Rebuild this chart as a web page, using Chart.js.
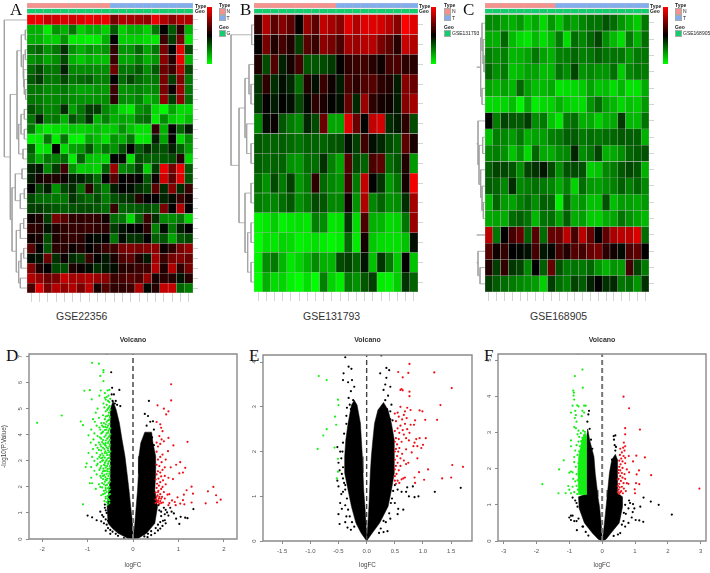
<!DOCTYPE html>
<html lang="en">
<head>
<meta charset="UTF-8">
<title>GEO heatmaps and volcano plots</title>
<script src="https://cdn.jsdelivr.net/npm/chart.js"></script>
<style>
    html, body { margin: 0; padding: 0; background: #fff; }
    body { position: relative; width: 710px; height: 573px; overflow: hidden; font-family: "Liberation Sans", Arial, sans-serif; }
    canvas { position: absolute; }
    .txt { position: absolute; white-space: nowrap; line-height: 1; color: #222; }
    .swatch { position: absolute; border: 0.5px solid #aaa; box-sizing: border-box; }
</style>
</head>
<body>
<script>
// heatmap values, one list per row
const rowsA = [
[12,12,11.3,11.5,11.7,11.5,11.8,12,11.8,12,10,11,10.8,10.7,10.5,12,11,10.3,11,11],
[5,5,4,5.5,5,6,4.5,5,5,4.5,6.5,4.5,5,5,4.5,6,8,6.5,8.7,5],
[5,5,4.5,4.5,5.5,4,4,3.9,4,5,8,4.5,4.5,4.5,4.2,4.1,9,7,10,4.2],
[6,6.3,5.5,6,7.2,5.5,5,5.5,5.2,5.5,8.8,5.5,5.5,6.3,5.2,6,10,8,11.8,6.8],
[5.5,5.8,5.2,5.6,6.8,5,4.6,5,4.8,4.8,9,5.2,5.2,5.8,5,5.5,10.3,8.6,12,5],
[6.2,6.8,6,6,7.5,5.7,5.6,5.7,5.6,5.6,9.8,6,6,6.5,5.6,6.5,9.8,9,11,6.8],
[6.5,7,6,6,6.8,6,6.2,6.4,5.8,5.8,8,6.2,6.8,6.2,5.8,6,10,7,10.2,6],
[6,6,5.6,5.7,6,5.5,5.2,5.3,5.5,5.4,9,5.5,5.6,5.8,5.5,5.7,10,8.2,10.6,6],
[6,5.9,5.6,5.7,5.9,5.6,5.5,5.5,5.5,5.6,8.7,5.6,5.5,5.8,4.9,5.3,10.4,7,10.4,6.1],
[6.6,6.2,5.7,5.8,7.3,5.3,6,7,7,5.7,5.2,4.3,4,5.5,5.8,4.3,3.8,5.2,4.3,4.3],
[6,7.5,5.8,6,5,6.6,6,7.2,5,5.8,5,5.2,5,6,6.2,4,5.6,4.6,4.2,4.8],
[6,4.4,4,4.2,4.3,4.6,4.4,4.6,4.8,4.5,4.6,5.5,4.7,4.2,4.2,8.8,5,8,6.3,7.5],
[3.9,4,6,4,6,3.9,3.8,5.2,4.8,4.2,5.5,5,6,4,4.1,7.5,5.2,8,4.4,5.6],
[6.5,4,4.2,8,4.3,5.2,5.4,6.6,5.2,6,5.5,6.6,8,6.4,7.2,6.8,6.6,7.5,6.4,5.3],
[6,5,6,5.8,6.2,4,6.4,4.7,4.6,4.4,8,7.8,4.2,6.7,6.3,6.4,6.5,6.7,8.6,4.4],
[7.4,7.6,5.7,7,9,5.5,4.5,4.6,4.4,6.4,10.6,5.7,6,7,4.5,7,12,10,12,6.5],
[7.5,8.3,8.5,8.5,8.2,7.5,7.5,7,6.2,8,9.4,8,8.2,8,6.5,8.2,11.5,9.6,11.8,6.6],
[8,6.8,7.5,5.5,6.8,7.3,6,8.7,6.5,5.8,7.5,8,7.8,7.2,6.8,9.5,7.3,10.2,7.3,9],
[6.8,6.2,6.1,6,6,7.1,6.5,6.2,6.7,5.9,6.6,7,7.2,8.6,8,8,7.4,7.8,9,8.3],
[6.9,7,6.7,6.5,6.4,6.6,6.7,6.7,6.5,6.2,8.9,6.3,6.4,6.5,6.7,6.4,10,8,11,8],
[8.2,8.5,7,10,9.5,8.8,8.8,8.9,8.8,8.3,6.2,6,4.3,6.3,9,7.2,5.7,5.6,6,4.4],
[8.8,8.6,7.7,8.5,8.8,8.9,8.9,9,8.8,8.7,7,7.7,8,8,8.7,5.8,7.8,6,7.5,8],
[8.2,8.4,6.7,8.5,8.8,8.9,8.7,8,7.8,8,6,7.8,7.1,7.2,8,6.4,6.6,5.2,6.5,6.8],
[9.5,8,6.6,8.7,8.7,8.2,8.6,8,8.5,9,9,10,10.2,10,10.2,10.4,8.2,8.8,10,10.6],
[7.8,7.7,9.8,7.2,8.2,7.3,7,9,8,7.6,8.4,9.3,9.6,8.5,7.6,10.7,9,10,10.2,9.8],
[10.2,8.5,8,6.8,6.7,8.5,8.2,7.8,7.2,7.6,7.8,8.6,8.7,9,9,11,8.5,11,8.8,10],
[11,10.5,9.8,10,11.3,10.8,10.8,11,10.6,10.3,9,9.2,9.5,9.2,10.5,8.4,8.7,8.6,7.7,8.6],
[9.2,11.8,10,11,10.5,11,10,11.2,8.4,9.4,8.8,8.8,9,11,7.9,8.6,11.3,11.3,6.3,5.9]
];
const rowsB = [
[8,10.2,8.8,9.5,8.8,7.3,9.8,8.8,10.5,10,9.5,11,10.2,11,11,10.8,10.3,9.5,11.5,11],
[7.3,9.2,7.8,8.4,7.8,6.2,8.7,8.2,9.6,9.2,8.5,10,9.8,10.3,10.3,9.3,8.8,7.9,10.6,10.2],
[7.8,6,8.6,6.7,7.6,8.4,5.8,5.8,6,6.3,7.3,8,8.2,8.3,7.9,7.5,8.4,8.5,8,7.9],
[6.4,8,6.5,7,6.6,5.4,7.8,7,8.2,7.5,6.8,8.4,8,8.6,8.7,8,7.8,6.8,9.5,9],
[6.3,7.3,6.8,7.2,7,6,7.1,8,7.7,7.2,7,8.9,6.6,9.8,8,7.6,7.5,6.8,9.5,10],
[5,7,7.4,5.8,5.2,4.9,6.6,6,9,4.5,4.5,11,9,7.2,10.5,10.8,6.5,6.8,8,6],
[5.8,5.6,5.6,5.7,5.5,5.3,5.6,5.6,5.6,5.8,5.9,7,6.2,8.3,7,6.6,6,5.7,8.8,7.7],
[5.7,5.5,5.6,5.6,4.8,4.7,5.4,5.4,6.4,5.1,4.5,8.6,6,5.6,8.5,8.8,5.4,5.8,7.8,4.7],
[5.4,4.8,6,5.2,6.2,4.7,5.2,8,5.5,5,4.8,8.3,5.2,10.5,7.2,6.4,4.7,5.3,7.6,11.3],
[5.2,5,5,5.4,5.8,4.8,5.2,6,5.8,5,5,7.5,4.8,10.2,5,5.6,4.8,4.9,6.5,10],
[3.2,3.4,3.8,3.2,3.4,3.5,3.4,5.1,4.9,3.4,3.5,6.3,3.6,8.5,4.3,4.2,3.6,3.7,5.3,9.8],
[3,3.5,3.4,3.7,3.6,3.2,3.3,3.5,3.3,3.1,3.3,5.5,3.3,7.6,3.9,3.6,3.5,3.5,4,7],
[3.2,4.9,5.2,4.2,3.4,3.7,4.2,4.9,4.3,4.2,6,6.2,5.6,6.9,4,6.4,5.2,3.9,7.3,4],
[3,4.3,3.6,3.7,3.2,3,3.5,3,5.1,3.7,3.3,5.2,4.8,5.8,6.2,3.3,3.2,3.8,6.4,5.6]
];
const rowsC = [
[6,5.8,5.2,4.8,5.5,4.2,5,3.6,5.5,4.2,5.8,5.2,6,6.6,6.6,7.5,6.8,5.6,4.8,4,6.5],
[5,4.8,7,4.5,3.6,3.2,4.5,3.4,4.5,6.4,3.5,6.8,6,7,8,5.8,4.5,3.5,6.4,4.7,6.8],
[6.3,5.7,6.2,4.6,4.8,5.2,6.5,5.2,4.8,6.2,6.3,7,6.2,6.5,7.2,6.6,6.6,6.5,5.5,6.4,6.6],
[7,5.7,6.4,4.2,4.6,5.2,5.2,4.4,4.6,6.6,5.8,8,5.6,6,5.6,5.6,6.7,4,6,6.4,6.4],
[5.2,4.7,5.2,4.6,7,5.3,4.4,4.5,5,3.3,3.4,3.6,4,5.2,4.2,4.4,3.5,4.6,3.3,3.3,5],
[3.6,3.6,3.7,4.4,2.8,5,3,3.6,3.8,4.8,4,3.6,3.5,5.6,6.8,5.2,4.6,3.7,4.3,4,5.5],
[9.8,6.3,8,7.4,7.3,8.2,5.8,6.4,4.2,3.2,6.4,6.8,4.8,5,3.9,4.8,5,8.3,4.6,4.5,6.6],
[4.3,6.3,6,5.4,6.5,4.8,5.2,5.3,6.2,6.4,7.2,7.3,6.4,6.8,6.5,6.8,7,7.4,7.2,7.2,4.8],
[6,6.3,5.7,4.2,5.6,3.6,7,5,4.9,5.8,6,9,5.8,6.5,8,4.8,5,5.8,7,7.3,7.6],
[7.2,8,7.9,7.5,5.8,8,8.5,9.3,7.8,5.8,7.6,7.8,7.6,3.9,4.2,6,6.3,7.4,7.9,7.5,4.8],
[7.2,7,6,8.7,6,6.3,6.7,6.4,6.1,5,6.2,3.8,6.8,5.5,5.3,5.8,6.2,7.2,6.2,7,6],
[4.6,7,5.4,5.2,6.2,6.8,5.8,7.2,7,3,7,4.9,5.6,4.3,4.3,7.6,4.4,5.4,5.3,5,5.5],
[5,5.2,4.9,6.8,7.2,6.6,4.6,6.6,6.8,5.2,7.2,4.9,5.3,4,3.9,4.9,5.1,6.6,5.7,5.1,4.6],
[15.5,6.5,10,12,13,7.2,12.5,6.8,13,13,15.5,12,15.5,13,10,12.8,15,15.5,15.5,16.5,6.8],
[12.5,10.5,11.5,10,9.8,9.5,12,9.3,9.8,12,11,12.5,12,13,13.5,11.3,10.5,9.7,12.3,12.8,10],
[11,8.2,11.5,8.4,8,6,10,7.2,13,7.6,6.4,6.6,6.4,7,5.6,4.7,5.6,5.4,12,8,6.4],
[8.2,7.3,6.8,6.4,6,5.7,5.4,3.9,8.2,6.8,6.2,8,7.3,9,10,8.6,8.8,6.5,6.8,5.6,8.6]
];

// dendrogram merges: [height, row1, height1, row2, height2]
const treeA = [
[1.7,2,0,3,0],[1.7,4,0,5,0],[1.3,8,0,9,0],[2.7,7,0,8.5,1.3],[3.3,6,0,7.75,2.7],[4,4.5,1.7,6.9,3.3],[5.7,2.5,1.7,5.7,4],
[2.7,10,0,11,0],[2.7,12,0,13,0],[4,14,0,15,0],[6,10.5,2.7,12.5,2.7],[8.3,11.5,6,14.5,4],[10,4.1,5.7,13,8.3],
[5,16,0,17,0],[2.7,18,0,19,0],[6.7,18.5,2.7,20,0],[11.7,16.5,5,19.2,6.7],
[3.3,21,0,22,0],[6.7,21.5,3.3,23,0],[3.3,24,0,25,0],[6,24.5,3.3,26,0],[6.7,27,0,28,0],[8.3,25.3,6,27.5,6.7],[10.7,22.2,6.7,26.4,8.3],[15,17.9,11.7,24.3,10.7],
[16.7,8.5,10,21.1,15],[22.7,1,0,14.8,16.7]
];
const treeB = [
[2.3,1,0,2,0],[3,4,0,5,0],[5,3,0,4.5,3],[3,7,0,8,0],[7.3,6,0,7.5,3],[9,3.7,5,6.7,7.3],
[3,9,0,10,0],[3,11,0,12,0],[3,13,0,14,0],[6.3,11.5,3,13.5,3],[9,9.5,3,12.5,6.3],[15,5.2,9,11,9],[23,1.5,2.3,8.1,15]
];
const treeC = [
[1,3,0,4,0],[2,2,0,3.5,1],[3,1,0,2.7,2],[3,5,0,6,0],[4.3,1.9,3,5.5,3],[8.3,3.7,4.3,3.7,4.3],
[2.3,8,0,9,0],[1.7,12,0,13,0],[3,11,0,12.5,1.7],[4.3,10,0,11.7,3],[6,8.5,2.3,10.9,4.3],[7,7,0,9.7,6],[8.3,8.4,7,8.4,7],
[8.3,14,0,14,0],[5,16,0,17,0],[7,15,0,16.5,5],[8.3,15.7,7,15.7,7]
];

// volcano D
const dXTicks = [-2,-1,0,1,2];
const dYTicks = [0,1,2,3,4,5,6,7];
const dGreen = [[-2.11,4.46],[-1.57,4.74],[-1.15,4.51],[-1.1,4.37],[-1.1,1.33],[-1.07,5.69],[-.95,5.71],[-.9,6.76],[-.75,6.73],[-.65,6.48],[-.65,6.4],[-.72,6.26],[-.65,6.06],[-.58,7.1],[-.71,5.7],[-.91,5.36],[-.74,5.5],
[-.62,5.6],[-.56,5.7],[-.52,5.72],[-.58,5.45],[-.54,5.5],[-.62,5.42],[-.5,5.38],[-.6,5.35],[-.55,5.3],[-.52,5.25],[-.65,5.2],[-.58,5.15],[-.51,5.1],[-.63,5.05],[-.55,5],[-.5,4.95],[-.6,4.9],[-.53,4.85],[-.78,5],[-.82,4.85],[-.66,4.75],[-.57,4.72],[-.51,4.68],[-.88,4.6],[-.75,4.65],[-.62,4.6],[-.55,4.55],[-.84,4.5],[-.7,4.45],[-.6,4.4],[-.52,4.42],[-.8,4.35],[-.65,4.3],[-.57,4.28],[-.5,4.25],[-.92,4.2],[-.72,4.2],[-.62,4.18],[-.54,4.15],[-.85,4.05],[-.68,4.08],[-.58,4.05],[-.5,4.02],[-.98,3.98],[-.78,3.95],[-.63,3.92],[-.54,3.9],[-.87,3.82],[-.7,3.85],[-.6,3.78],[-.51,3.8],[-.93,3.7],[-.75,3.7],[-.65,3.66],[-.55,3.68],
[-.82,3.6],[-.7,3.55],[-.6,3.58],[-.52,3.55],[-.88,3.45],[-.75,3.42],[-.63,3.45],[-.55,3.4],[-.5,3.36],[-.98,3.3],[-.8,3.3],[-.68,3.28],[-.58,3.3],[-.52,3.22],[-.9,3.15],[-.74,3.15],[-.62,3.12],[-.55,3.1],[-.85,3],[-.68,3],[-.6,2.98],[-.51,3],[-1.02,2.9],[-.78,2.88],[-.64,2.85],[-.55,2.88],[-.92,2.76],[-1.04,2.76],[-.72,2.72],[-.6,2.74],[-.52,2.7],[-.85,2.62],[-.66,2.6],[-.56,2.6],[-.8,2.48],[-.63,2.46],[-.52,2.5],[-.92,2.35],[-.7,2.35],[-.57,2.32],[-.62,2.2],[-.51,2.2],[-.95,2.14],[-.9,2.14],[-.75,2.1],[-.57,2.08],[-.68,1.98],[-.52,2],[-.82,1.92],[-.6,1.88],[-.53,1.85],[-.62,1.75],[-.7,1.68],[-.56,1.65],[-.51,1.72],[-.6,1.55],[-.53,1.5],[-.58,1.42],[-.52,1.38],[-.56,1.32],
[-.53,5.05],[-.57,4.95],[-.54,4.75],[-.6,4.7],[-.52,4.58],[-.58,4.5],[-.64,4.45],[-.55,4.35],[-.61,4.3],[-.52,4.22],[-.59,4.2],[-.66,4.12],[-.55,4.08],[-.6,3.98],[-.52,3.95],[-.57,3.85],[-.66,3.8],[-.54,3.74],[-.6,3.68],[-.51,3.62],[-.58,3.52],[-.66,3.5],[-.55,3.48],[-.61,3.36],[-.53,3.33],[-.57,3.22],[-.65,3.2],[-.52,3.12],[-.58,3.04],[-.54,2.96],[-.62,2.92],[-.57,2.8],[-.51,2.8],[-.65,2.7],[-.56,2.68],[-.6,2.62],[-.52,2.58],[-.58,2.5],[-.54,2.42],[-.61,2.38],[-.52,2.32],[-.58,2.25],[-.54,2.15],[-.6,2.05],[-.55,1.95],[-.51,1.9],[-.58,1.8],[-.53,1.7],[-.6,1.62],[-.55,1.55],[-.52,1.48],[-.63,1.45],
[-.7,4.05],[-.73,3.9],[-.68,3.72],[-.72,3.62],[-.78,3.5],[-.7,3.4],[-.72,3.22],[-.78,3.08],[-.7,3.1],[-.66,3.02],[-.72,2.95],[-.8,2.82],[-.7,2.8],[-.62,2.82],[-.74,2.65],[-.68,2.52],[-.72,2.42],[-.66,2.3],[-.6,2.28],[-.68,2.15],[-.64,2.1],[-.72,2],[-.6,1.95],[-.64,1.85],[-.66,1.72],[-.68,4.35],[-.74,4.28],[-.62,3.62],[-.62,3.3],[-.67,3.12],[-.64,2.6],[-.62,2.62],[-.66,2.42]];
const dRed = [[.84,5.94],[.84,5.32],[.54,5.13],[.68,5],[.78,4.9],[.73,4.78],[.52,4.49],[.6,4.4],[.62,4.27],[.65,4.14],[.58,3.95],[.78,3.88],[1.2,3.73],[.63,3.82],[.89,3.59],[.77,3.37],[.65,3.24],[1.04,2.95],[1.15,2.73],[.95,2.85],[1.77,2],[1.65,1.83],[1.83,1.68],[1.93,1.51],[1.85,1.4],[1.6,1.37],[1.29,2.01],[1.32,1.74],[1.29,1.4],[1.18,1.87],[1.12,1.7],[1.1,1.49],[1.04,1.36],[1.13,1.33],[.98,1.6],[.92,1.42],[.94,1.3],[1.02,2.52],[1.1,2.55],[.88,2.3],[.83,2.75],[.72,3.05],
[.52,3.7],[.55,3.55],[.6,3.65],[.68,3.75],[.52,3.35],[.6,3.15],[.55,3.05],[.63,2.95],[.52,2.85],[.58,2.8],[.7,2.75],[.65,2.65],[.55,2.6],[.6,2.55],[.52,2.48],[.7,2.42],[.62,2.4],[.78,2.35],[.56,2.32],[.5,2.28],[.66,2.25],[.6,2.18],[.53,2.12],[.72,2.1],[.57,2.05],[.65,2],[.52,1.96],[.8,1.72],[.62,1.92],[.56,1.85],[.68,1.8],[.5,1.78],[.6,1.72],[.54,1.68],[.64,1.62],[.7,1.55],[.57,1.55],[.5,1.52],[.6,1.45],[.53,1.42],[.66,1.4],[.58,1.35],[.8,1.38],[.78,1.3],[.86,1.48],[.76,1.7],
[.55,1.8],[.58,1.62],[.62,1.55],[.52,1.62],[.55,1.48],[.62,1.38],[.5,1.38],[.56,1.42]];
const dBlack = [[-.46,5.8],[-.3,5.72],[-.48,6.4],[.35,5.3],[.26,4.8],[.33,4.72],[.38,4.5],[.44,4.52],[.46,4.2],[.3,4.35],[-.9,.83],[-.8,.72],[-.72,1.05],[-.68,.92],[-.62,1.2],[-.7,.68],[-.6,.75],[-.58,.55],[-.5,.35],[-.45,.28],[-.38,.2],[-.33,.12],[-.55,.42],[-.42,.5],[-.45,1.1],[-.38,5.3],[-.42,5.55],[-.28,5.1],[-1,.9],
[1.33,1.15],[1.2,.8],[1.15,.82],[1.05,.85],[1.02,.58],[.95,.78],[.9,.98],[.85,1.05],[.82,1.2],[.78,.9],[.72,1.12],[.7,.72],[.65,.5],[.6,.65],[.55,.33],[.48,.22],[.4,.15],[.5,.42],[.75,1.02],[.68,1.2],[.58,1.1],[.32,.07],[.45,.6],[.3,3.95],[.42,3.9],[.46,3.6],[-.2,.03],
[-.47,5.55],[-.4,5.2],[-.45,5.3],[-.35,5.15],[-.64,.6],[-.65,.85],[-.58,1],[-.5,.2],[-.6,.32],[-.55,.7],[.5,1.25],[.55,.55],[.6,.4],[.62,.88],[.72,.6],[.4,.3],[.33,.2],[.25,.1],[-.62,1.32],[-.6,1.1],[.56,1.3],[.62,1.05],[.7,.95],[.66,.7]];
const dLeftCore = [[0,0],[-.12,.03],[-.33,.22],[-.45,.4],[-.55,.6],[-.57,1.24],[-.53,1.88],[-.5,2.3],[-.5,4.45],[-.5,4.96],[-.44,5.3],[-.37,4.96],[-.3,4.45],[-.24,3.8],[-.176,3.17],[-.13,2.5],[-.088,1.88],[-.05,1.24],[-.01,.6],[0,.1],[0,0]];
const dRightCore = [[0,0],[.12,.03],[.3,.22],[.48,.6],[.54,1.24],[.48,1.88],[.5,2.5],[.5,3.17],[.44,3.68],[.41,4.1],[.26,4.1],[.17,3.68],[.13,3.17],[.12,2.5],[.1,1.88],[.07,1.24],[.04,.6],[.01,.1],[0,0]];

// volcano E
const eXTicks = [-1.5,-1,-.5,0,.5,1,1.5];
const eYTicks = [0,1,2,3,4];
const eGreen = [[-.85,3.69],[-.71,3.6],[-.51,3.16],[-.5,3.04],[-.56,2.78],[-.54,2.6],[-.71,2.5],[-.77,2.36],[-.57,2.09],[-.87,2.06],[-.51,1.84],[-.51,1.55],[-.53,1.4]];
const eRed = [[.76,3.96],[.56,3.78],[.74,3.76],[.64,3.66],[1.2,3.77],[1.51,3.42],[1.31,3.04],[1.25,2.71],[1.52,1.7],[1.71,1.66],[1.5,1.42],[1.34,1.4],[1.09,1.6],[1.02,1.37],[1.05,2.3],[1.04,2.71],[.99,2.9],[.94,2.92],[.76,3.34],[.76,3.24],[.6,3.38],[.62,3.4],[.64,3.37],[.6,3],[.72,2.98],[.78,2.93],[.68,2.9],[.55,2.87],[.5,2.85],[.66,2.82],[.57,2.78],[.71,2.75],[.63,2.72],[.86,2.7],[.52,2.68],[.68,2.62],[.6,2.58],[.78,2.6],[.84,2.6],[.55,2.52],[.64,2.48],[.72,2.5],[.5,2.46],[.58,2.42],[.76,2.42],[.66,2.38],[.7,2.3],[.52,2.3],[.57,2.28],[.75,2.25],[.88,2.28],[.94,2.3],[1,2.15],[.62,2.22],[.5,2.22],[.54,2.16],[.85,2.2],[.9,2.12],[.58,2.08],[.52,2.06],[.7,2.05],[.83,2.12],[.97,2.08],[.5,2],[.56,2],[.63,1.95],[.8,1.98],[.54,1.9],[.6,1.85],[.9,1.85],[.5,1.82],[.66,1.8],[.7,1.72],[.55,1.75],[.74,1.75],[.52,1.68],[.6,1.68],[.5,1.6],[.57,1.58],[.93,1.54],[.53,1.5],[.5,1.45],[.68,1.42],[.62,1.38],[.55,1.35],[.65,1.4],[.58,1.3],[.5,1.35],[.85,1.42],[.86,1.3],[.52,1.28]];
const eBlack = [[1.67,1.19],[1.21,1.1],[-.38,4.11],[.26,4.15],[-.32,3.9],[-.41,3.75],[.35,3.87],[.24,3.75],[.4,3.82],[-.27,3.85],[-.26,3.6],[-.33,3.55],[-.42,3.6],[-.22,3.45],[-.28,3.35],[-.32,3.2],[-.24,3.15],[-.3,3.05],[-.35,2.98],[.35,3.65],[.33,3.5],[.42,3.45],[.3,3.38],[.38,3.25],[.33,3.15],[.28,3.02],[.44,3.05],[.42,2.9],[.38,2.78],[.46,2.7],
[-.52,2.1],[-.47,2],[-.45,1.85],[-.5,1.75],[-.48,1.58],[-.44,1.5],[-.52,1.35],[-.5,1.22],[-.42,1.1],[-.47,.85],[-.5,.6],[-.44,.72],[-.48,.38],[-.38,.42],[-.34,.3],[-.28,.25],[-.4,1.3],[-.45,1.05],[.55,1.15],[.62,1.1],[.7,1.1],[.75,1],[.85,.98],[.92,1],[.65,.7],[.56,.72],[.55,.6],[.5,.85],[.37,.22],[.42,.5],[.3,.2],[.45,.95],[.82,1.22],[.72,1.2],
[-.4,2.4],[-.42,2.2],[-.43,2],[-.42,1.65],[-.42,1.4],[-.38,1.25],[-.38,1.15],[-.35,.95],[-.38,.8],[-.33,.7],[-.3,.55],[-.36,.55],[-.26,.42],[-.22,.32],[-.36,2.62],[-.36,2.8],[-.28,2.95],
[.5,1.25],[.47,1.12],[.43,.85],[.4,.62],[.3,.45],[.34,.42],[.25,.28],[.22,.18],[.42,2.72],[.36,2.95],[.28,3],[.33,2.88]];
const eLeftCore = [[0,0],[-.1,.18],[-.19,.4],[-.27,.77],[-.33,1.14],[-.39,1.52],[-.39,1.89],[-.37,2.26],[-.33,2.63],[-.27,3.04],[-.22,3.15],[-.17,3.04],[-.11,2.63],[-.094,2.26],[-.076,1.89],[-.065,1.52],[-.053,1.14],[-.03,.77],[-.012,.4],[0,.1],[0,0]];
const eRightCore = [[0,0],[.1,.18],[.23,.4],[.38,.77],[.44,1.14],[.49,1.52],[.49,1.89],[.49,2.26],[.44,2.63],[.38,2.93],[.3,3.1],[.2,2.93],[.14,2.63],[.11,2.26],[.083,1.89],[.065,1.52],[.053,1.14],[.04,.77],[.023,.4],[.005,.1],[0,0]];

// volcano F
const fXTicks = [-3,-2,-1,0,1,2,3];
const fYTicks = [0,1,2,3,4,5];
const fGreen = [[-.74,5.18],[-.6,4.74],[-.83,4.56],[-.59,4.24],[-.88,4.16],[-.86,4.1],[-.87,4.02],[-.85,3.91],[-1.82,1.57],[-1.31,1.98],[-1.17,2.23],[-1.33,1.32],[-1.11,1.32],[-1.03,1.52],[-1,1.89],[-.9,3.74],[-.76,3.75],[-.72,3.72],[-.55,3.74],[-.5,3.74],[-.95,3.55],[-.82,3.6],[-.6,3.6],[-.55,3.55],[-.8,3.48],[-.83,3.4],[-.62,3.45],[-.78,3.3],[-.85,3.15],[-.8,3.12],[-.72,3.05],[-.58,3.05],[-.53,3.02],[-.75,2.95],[-.65,2.98],[-.55,2.92],[-.7,2.88],[-.6,2.85],[-.5,2.88],[-.95,2.78],[-.72,2.75],[-.64,2.76],[-.56,2.72],[-.95,2.62],[-.78,2.65],[-.68,2.62],[-.6,2.6],[-.52,2.62],[-.82,2.5],[-.7,2.48],[-.62,2.5],[-.75,2.38],[-.85,2.32],[-.68,2.3],[-.85,2.18],[-.72,2.15],[-.8,2.05],[-.95,1.92],[-.9,1.9],[-.78,1.85],[-.88,1.72],[-.82,1.65],[-.75,1.68],[-.9,1.5],[-.78,1.52],[-.74,1.42],[-.85,1.35],[-.76,1.3],[-1,1.42],[-.95,1.32]];
const fRed = [[.65,3.99],[.82,3.67],[.7,3.12],[1.15,3.08],[.7,2.95],[2.96,1.45],[1.49,1.82],[1.3,2.31],[1.04,2.36],[1.12,1.95],[.81,2.35],[.94,2.2],[1.05,1.84],[1.03,1.6],[1.13,1.57],[.99,1.43],[1,1.32],[.66,2.72],[.7,2.62],[.64,2.58],[.55,2.55],[.68,2.5],[.6,2.45],[.54,2.38],[.65,2.35],[.7,2.3],[.58,2.28],[.52,2.22],[.62,2.2],[.7,2.15],[.56,2.12],[.52,2.05],[.62,2.02],[.75,1.98],[.55,1.95],[.6,1.88],[.5,1.88],[.68,1.85],[.82,1.9],[.55,1.8],[.62,1.75],[.5,1.72],[.7,1.72],[.57,1.66],[.65,1.6],[.52,1.58],[.75,1.6],[.6,1.5],[.53,1.48],[.66,1.45],[.5,1.42],[.58,1.38],[.72,1.38],[.52,1.3],[.63,1.32],[.8,1.58],[.48,1.7],[.48,1.52],[.5,1.96],[.48,1.35],[.55,1.35]];
const fBlack = [[2.12,.73],[1.72,1],[1.48,1.09],[1.26,1.2],[1.16,.95],[1.25,.53],[1.13,.57],[-.77,.3],[1.02,.58],[.98,.9],[.94,1.02],[.85,1.05],[.82,1.12],[.93,.8],[.9,.65],[.8,.5],[.8,.9],[.72,.75],[.7,.4],[.65,.55],[.55,.22],[.48,.18],[.35,2.9],[.4,2.92],[.38,2.65],[.36,2.8],[.3,2.25],[.4,2.5],
[-1,.65],[-.95,.7],[-.9,.7],[-.85,.55],[-.95,.58],[-.78,.55],[-.72,.62],[-.82,1.12],[-.78,1.05],[-.9,1.2],[-.75,.95],[-.6,.4],[-.58,.4],[-.5,.25],[-.42,.15],[-.42,3.5],[-.4,3.6],[-.45,3.3],[-.38,3.1],[-.34,2.8],[-.3,2.55],
[.7,1],[.66,.78],[.6,.45],[.35,.14],[.42,2.6]];
const fGreenCore = [[-.48,1.28],[-.72,1.28],[-.74,1.9],[-.72,2.3],[-.62,2.8],[-.52,3],[-.48,2.9],[-.48,1.28]];
const fLeftCore = [[0,0],[-.12,.05],[-.3,.22],[-.54,.5],[-.7,.9],[-.72,1.22],[-.48,1.3],[-.48,2.33],[-.48,2.79],[-.44,3.1],[-.38,2.79],[-.25,2.33],[-.21,1.87],[-.15,1.41],[-.13,1.22],[-.08,.95],[-.03,.5],[0,.1],[0,0]];
const fRightCore = [[0,0],[.12,.05],[.27,.22],[.52,.5],[.62,.95],[.62,1.22],[.47,1.32],[.47,1.87],[.47,2.24],[.4,2.4],[.29,2.24],[.22,1.87],[.17,1.41],[.15,1.22],[.12,.95],[.07,.5],[.02,.1],[0,0]];

Chart.defaults.animation = false;
Chart.defaults.font.family = '"Liberation Sans", Arial, sans-serif';
Chart.defaults.plugins.legend.display = false;
Chart.defaults.plugins.tooltip.enabled = false;

function addCanvas(left, top, width, height) {
    const c = document.createElement('canvas');
    c.width = width;
    c.height = height;
    c.style.left = left + 'px';
    c.style.top = top + 'px';
    document.body.appendChild(c);
    return c;
}

function addText(text, x, y, size, extra) {
    const d = document.createElement('div');
    d.className = 'txt';
    d.textContent = text;
    d.style.left = x + 'px';
    d.style.top = y + 'px';
    d.style.fontSize = size + 'px';
    if (extra) d.style.cssText += extra;
    document.body.appendChild(d);
}

function addSwatch(x, y, w, h, color) {
    const d = document.createElement('div');
    d.className = 'swatch';
    d.style.cssText = `left:${x}px;top:${y}px;width:${w}px;height:${h}px;background:${color}`;
    document.body.appendChild(d);
}

// green -> black -> red
function heatColor(v, lo, hi) {
    const mid = (lo + hi) / 2;
    if (v <= mid) return `rgb(0,${Math.round(255 * Math.min(1, (mid - v) / (mid - lo)))},0)`;
    return `rgb(${Math.round(255 * Math.min(1, (v - mid) / (hi - mid)))},0,0)`;
}

function heatmap(left, top, width, height, rows, nNormal, lo, hi) {
    const cols = rows[0].map((_, i) => i + 1);
    const rowPx = (height - 11.7) / rows.length;
    const flat = (px, color, edge) => ({
        data: cols.map(() => px / rowPx),
        backgroundColor: color,
        borderColor: edge ? 'rgba(150,150,150,0.6)' : 'transparent',
        borderWidth: edge ? 0.5 : 0,
        borderSkipped: false
    });
    const typeColors = cols.map((_, i) => i < nNormal ? '#f8918c' : '#82aef0');
    const datasets = [
        flat(4.8, typeColors, true),
        flat(1.1, 'transparent', false),
        flat(4.4, '#10cf6c', true),
        flat(1.4, 'transparent', false)
    ];
    rows.forEach(r => {
        datasets.push({
            data: r.map(() => 1),
            backgroundColor: r.map(v => heatColor(v, lo, hi)),
            borderColor: 'rgba(150,150,150,0.6)',
            borderWidth: 0.5,
            borderSkipped: false
        });
    });
    const header = 11.7 / rowPx;
    new Chart(addCanvas(left, top, width + 12, height + 12), {
        type: 'bar',
        data: { labels: cols, datasets },
        options: {
            responsive: false,
            layout: { padding: 0 },
            datasets: { bar: { barPercentage: 1, categoryPercentage: 1 } },
            scales: {
                x: {
                    stacked: true,
                    grid: { drawOnChartArea: false, tickLength: 9, tickColor: '#d4d4d4', offset: false },
                    border: { display: false },
                    ticks: { display: false },
                    afterFit: s => { s.height = 12; }
                },
                y: {
                    stacked: true,
                    reverse: true,
                    position: 'right',
                    min: 0,
                    max: rows.length + header,
                    grid: { drawOnChartArea: false, tickLength: 5, tickColor: '#d4d4d4' },
                    border: { display: false },
                    ticks: { display: false },
                    afterBuildTicks: s => { s.ticks = rows.map((_, i) => ({ value: header + i + 0.5 })); },
                    afterFit: s => { s.width = 12; }
                }
            }
        }
    });
}

function dendrogram(left, top, width, height, tree, nRows) {
    const path = [];
    tree.forEach(([h, r1, h1, r2, h2]) => {
        path.push({ x: h1, y: r1 }, { x: h, y: r1 }, { x: h, y: r2 }, { x: h2, y: r2 }, { x: NaN, y: NaN });
    });
    new Chart(addCanvas(left, top, width, height), {
        type: 'scatter',
        data: { datasets: [{ data: path, showLine: true, spanGaps: false, pointRadius: 0, borderColor: '#a0a0a0', borderWidth: 0.8 }] },
        options: {
            responsive: false,
            layout: { padding: 0 },
            scales: {
                x: { display: false, reverse: true, min: 0, max: width },
                y: { display: false, reverse: true, min: 0.5, max: nRows + 0.5 }
            }
        }
    });
}

function colorBar(left, top, width, height, lo, hi, ticks) {
    new Chart(addCanvas(left, top, width, height), {
        type: 'bar',
        data: {
            labels: ['scale'],
            datasets: [{
                data: [[lo, hi]],
                barPercentage: 1,
                categoryPercentage: 1,
                backgroundColor: ctx => {
                    const area = ctx.chart.chartArea;
                    if (!area) return '#000';
                    const g = ctx.chart.ctx.createLinearGradient(0, area.bottom, 0, area.top);
                    g.addColorStop(0, '#00ff00');
                    g.addColorStop(0.5, '#000000');
                    g.addColorStop(1, '#ff0000');
                    return g;
                }
            }]
        },
        options: {
            responsive: false,
            layout: { padding: 0 },
            scales: {
                x: { display: false },
                y: {
                    position: 'right',
                    min: lo,
                    max: hi,
                    grid: { display: false },
                    border: { display: false },
                    ticks: { color: '#333', padding: 1, font: { size: 5 } },
                    afterBuildTicks: s => { s.ticks = ticks.map(v => ({ value: v })); },
                    afterFit: s => { s.width = width - 5; }
                }
            }
        }
    });
}

function volcano(left, top, width, height, cfg) {
    const polygon = (data, color) => ({
        data, showLine: true, fill: 'shape', pointRadius: 0, borderWidth: 0.5, borderColor: color, backgroundColor: color
    });
    const dots = (data, color) => ({ data, pointRadius: 1.1, pointBorderWidth: 0, pointBackgroundColor: color });
    const box = [[cfg.xMin, cfg.yMin], [cfg.xMax, cfg.yMin], [cfg.xMax, cfg.yMax], [cfg.xMin, cfg.yMax], [cfg.xMin, cfg.yMin]];
    const datasets = [
        { data: box, showLine: true, pointRadius: 0, borderColor: '#8a8a8a', borderWidth: 1.4, clip: false },
        { data: [[0, cfg.yMin], [0, cfg.yMax]], showLine: true, pointRadius: 0, borderColor: cfg.dashColor, borderWidth: cfg.dashWidth, borderDash: [5, 3] },
        dots(cfg.red, '#f01018'),
        dots(cfg.green, '#16ee16')
    ];
    (cfg.greenCore || []).forEach(p => datasets.push(polygon(p, '#16ee16')));
    datasets.push(dots(cfg.black, '#000'));
    cfg.cores.forEach(p => datasets.push(polygon(p, '#000')));
    const tickFont = { size: 6 };
    new Chart(addCanvas(left, top, width, height), {
        type: 'scatter',
        data: { datasets },
        options: {
            responsive: false,
            layout: { padding: { right: width - cfg.boxRight } },
            plugins: {
                title: {
                    display: true,
                    text: 'Volcano',
                    fullSize: false,
                    color: '#333',
                    font: { size: 7, weight: 'bold' },
                    padding: { top: 6, bottom: cfg.boxTop - 14.4 }
                }
            },
            scales: {
                x: {
                    min: cfg.xMin,
                    max: cfg.xMax,
                    grid: { drawOnChartArea: false, tickLength: 3, tickColor: '#8a8a8a' },
                    border: { display: false },
                    title: { display: true, text: 'logFC', color: '#444', font: { size: 6.3 }, padding: { top: 6 } },
                    ticks: {
                        color: '#555', padding: 4, font: tickFont, maxRotation: 0, autoSkip: false,
                        callback: v => v.toFixed(cfg.digits)
                    },
                    afterBuildTicks: s => { s.ticks = cfg.xTicks.map(v => ({ value: v })); },
                    afterFit: s => { s.height = height - cfg.boxBottom; }
                },
                y: {
                    min: cfg.yMin,
                    max: cfg.yMax,
                    grid: { drawOnChartArea: false, tickLength: 3, tickColor: '#8a8a8a' },
                    border: { display: false },
                    title: { display: !!cfg.yTitle, text: cfg.yTitle, color: '#444', font: { size: 6.3 }, padding: 0 },
                    ticks: {
                        color: '#555', padding: 4, font: tickFont, minRotation: 90, maxRotation: 90,
                        crossAlign: 'center', autoSkip: false, callback: v => String(v)
                    },
                    afterBuildTicks: s => { s.ticks = cfg.yTicks.map(v => ({ value: v })); },
                    afterFit: s => { s.width = cfg.boxLeft; }
                }
            }
        }
    });
}

// heatmaps
heatmap(27, 3, 166, 290, rowsA, 10, 3.7, 12.3);
heatmap(254, 3, 164, 289, rowsB, 10, 3, 11.5);
heatmap(485, 3, 164, 289, rowsC, 9, 2.5, 17.5);

dendrogram(3, 15, 24, 278, treeA, 28);
dendrogram(226, 15, 28, 277, treeB, 14);
dendrogram(476, 15, 9, 277, treeC, 17);

colorBar(207, 3, 14, 65, 3.7, 12.3, [4, 6, 8, 10, 12]);
colorBar(431, 3, 14, 65, 3, 11.5, [4, 6, 8, 10]);
colorBar(663, 3, 14, 65, 2.5, 17.5, [4, 6, 8, 10, 12, 14, 16]);

// annotation text and legends
[[195, 'G', 219, 226.5], [419, 'GSE131793', 444, 452], [650, 'GSE168905', 675, 683]].forEach(([x, geo, lx, tx]) => {
    const bold = 'font-weight:bold;';
    addText('Type', x, 3.5, 5, bold);
    addText('Geo', x, 9, 5, bold);
    addText('Type', lx, 2.5, 5, bold);
    addSwatch(lx, 8, 7, 6.5, '#f8918c');
    addSwatch(lx, 14.5, 7, 6.5, '#82aef0');
    addText('N', tx, 9, 5);
    addText('T', tx, 15.5, 5);
    addText('Geo', lx, 25, 5, bold);
    addSwatch(lx, 30, 7, 6.5, '#10cf6c');
    addText(geo, tx, 31, 5);
});

[['A', 10, 1], ['B', 240, 1], ['C', 463, 1], ['D', 6, 347], ['E', 249, 347], ['F', 484, 347]].forEach(([t, x, y]) => {
    addText(t, x, y, 17, 'font-family:"Liberation Serif",serif;color:#111;');
});
[['GSE22356', 56, 311], ['GSE131793', 303, 311], ['GSE168905', 530, 311]].forEach(([t, x, y]) => {
    addText(t, x, y, 10.5, 'color:#333;');
});

// volcano plots
volcano(0, 330, 241, 243, {
    boxLeft: 29, boxRight: 237, boxTop: 24, boxBottom: 209,
    xMin: -2.29, xMax: 2.29, yMin: 0, yMax: 7.1, digits: 0, xTicks: dXTicks, yTicks: dYTicks,
    dashColor: '#777', dashWidth: 2,
    yTitle: '-log10(P.Value)', green: dGreen, red: dRed, black: dBlack, cores: [dLeftCore, dRightCore]
});
volcano(240, 330, 236, 243, {
    boxLeft: 23, boxRight: 233, boxTop: 25, boxBottom: 211,
    xMin: -1.84, xMax: 1.87, yMin: 0, yMax: 4.16, digits: 1, xTicks: eXTicks, yTicks: eYTicks,
    dashColor: '#444', dashWidth: 1.4,
    yTitle: '', green: eGreen, red: eRed, black: eBlack, cores: [eLeftCore, eRightCore]
});
volcano(476, 330, 234, 243, {
    boxLeft: 22, boxRight: 231, boxTop: 24, boxBottom: 211,
    xMin: -3.17, xMax: 3.16, yMin: 0, yMax: 5.17, digits: 0, xTicks: fXTicks, yTicks: fYTicks,
    dashColor: '#777', dashWidth: 2,
    yTitle: '', green: fGreen, red: fRed, black: fBlack, greenCore: [fGreenCore], cores: [fLeftCore, fRightCore]
});
</script>
</body>
</html>
